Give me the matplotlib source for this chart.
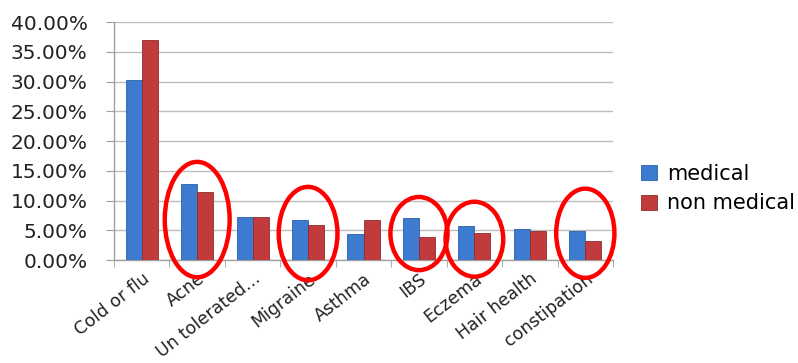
import matplotlib
matplotlib.use("Agg")
import matplotlib.pyplot as plt
from matplotlib.patches import Ellipse
from matplotlib.ticker import FuncFormatter, MultipleLocator
import numpy as np

categories = ["Cold or flu", "Acne", "Un tolerated\u2026", "Migraine", "Asthma",
              "IBS", "Eczema", "Hair health", "constipation"]
medical = [0.3025, 0.127, 0.072, 0.067, 0.043, 0.070, 0.057, 0.052, 0.049]
non_medical = [0.370, 0.114, 0.073, 0.059, 0.068, 0.038, 0.046, 0.048, 0.032]
series_names = ["medical", "non medical"]
highlighted = [1, 3, 5, 6, 8]

plt.rcParams['font.family'] = ['DejaVu Sans']
fig = plt.figure(figsize=(7.98, 3.63), dpi=100)
ax = fig.add_axes([0.1429, 0.2837, 0.6253, 0.6553])

x = np.arange(len(categories))
w = 0.29
c_blue = '#3C7BD0'
c_red = '#C23B3C'
b1 = ax.bar(x - w/2, medical, w, color=c_blue, edgecolor='#2A5FA8', linewidth=0.6, label=series_names[0], zorder=3)
b2 = ax.bar(x + w/2, non_medical, w, color=c_red, edgecolor='#8E2A2B', linewidth=0.6, label=series_names[1], zorder=3)

ax.set_xlim(-0.5, len(categories) - 0.5)
ax.set_ylim(0, 0.40)
ax.yaxis.set_major_locator(MultipleLocator(0.05))
ax.yaxis.set_major_formatter(FuncFormatter(lambda v, p: f"{v*100:.2f}%"))
ax.grid(axis='y', color='#BDBDBD', linewidth=1.0, zorder=0)
ax.set_axisbelow(True)

for s in ['top', 'right']:
    ax.spines[s].set_visible(False)
for s in ['left', 'bottom']:
    ax.spines[s].set_color('#A0A0A0')
    ax.spines[s].set_linewidth(1.0)

ax.tick_params(axis='y', labelsize=14.5, colors='#A0A0A0', labelcolor='#222222', length=6, pad=13)
ax.set_xticks(x)
ax.set_xticklabels(categories, rotation=38, ha='right', va='top', rotation_mode='anchor', fontsize=12.5, color='#222222')
ax.tick_params(axis='x', length=0, pad=7)
ax.set_xticks(np.arange(len(categories) + 1) - 0.5, minor=True)
ax.tick_params(axis='x', which='minor', length=5, color='#A0A0A0')

# red highlight ellipses: (bottom %, top %, width in categories)
ell_specs = {1: (-2.9, 16.5, 1.17), 3: (-3.4, 12.3, 1.06), 5: (-1.7, 10.6, 1.03),
             6: (-2.8, 9.8, 1.04), 8: (-3.0, 12.0, 1.05)}
for i in highlighted:
    y0, y1, wd = ell_specs[i]
    yc = (y0 + y1) / 2 / 100
    hgt = (y1 - y0) / 100
    e = Ellipse((i, yc), wd, hgt, fill=False, edgecolor='#FF0000', linewidth=3.2, clip_on=False, zorder=5)
    ax.add_patch(e)

fig.legend(handles=[b1, b2], labels=series_names, loc='center left', bbox_to_anchor=(0.78, 0.48),
           frameon=False, fontsize=15, handlelength=0.75, handleheight=0.75, handletextpad=0.5, labelspacing=0.45)

fig.savefig('out.png', dpi=100)
